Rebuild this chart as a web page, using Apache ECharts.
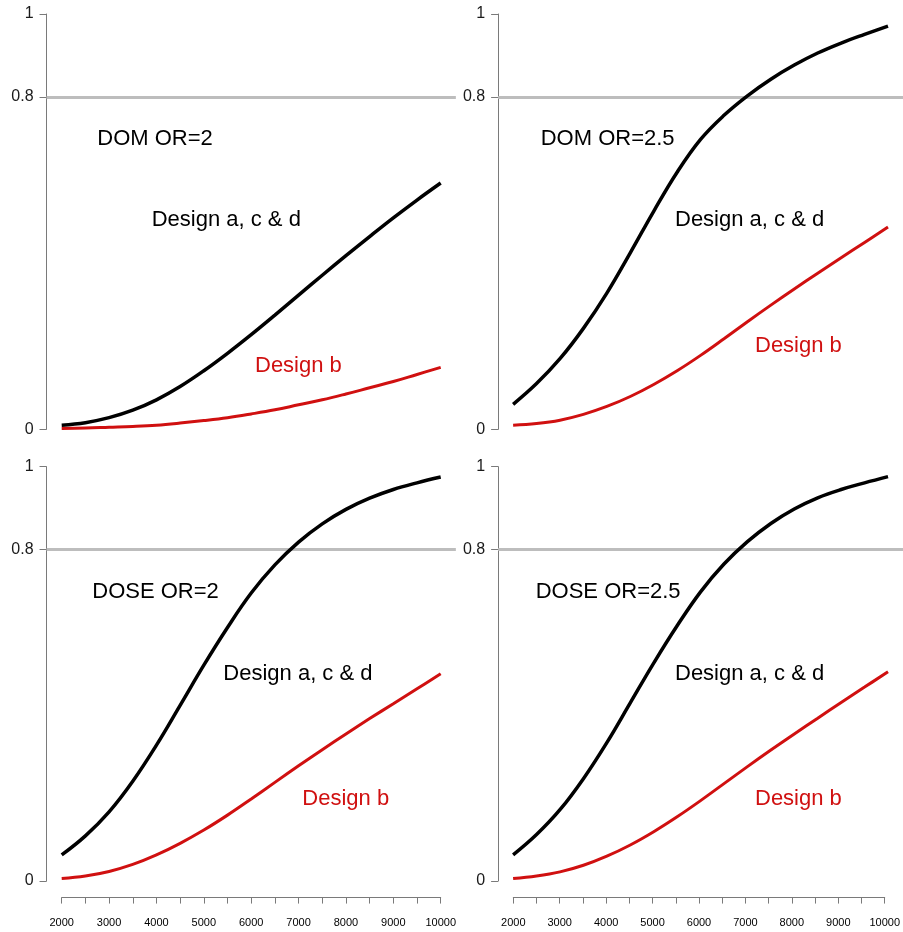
<!DOCTYPE html>
<html>
<head>
<meta charset="utf-8">
<title>Power by sample size</title>
<script src="https://cdn.jsdelivr.net/npm/echarts@6/dist/echarts.min.js"></script>
<style>
  html, body { margin: 0; padding: 0; background: #fff; }
  #chart { width: 903px; height: 932px; }
</style>
</head>
<body>
<div id="chart"></div>
<script>
// Total sample size (x) shared by all four panels
const sampleSizes = [2000, 2500, 3000, 3500, 4000, 4500, 5000, 5500, 6000,
                     6500, 7000, 7500, 8000, 8500, 9000, 9500, 10000];

// Power curves, one pair per panel
const domOr2Acd   = [0.010, 0.016, 0.028, 0.046, 0.071, 0.103, 0.141, 0.183, 0.228,
                     0.275, 0.323, 0.371, 0.418, 0.464, 0.509, 0.552, 0.593];
const domOr2B     = [0.002, 0.003, 0.005, 0.007, 0.010, 0.015, 0.021, 0.028, 0.037,
                     0.047, 0.059, 0.071, 0.085, 0.100, 0.115, 0.132, 0.149];
const domOr25Acd  = [0.060, 0.110, 0.170, 0.243, 0.328, 0.425, 0.525, 0.619, 0.698,
                     0.756, 0.803, 0.843, 0.877, 0.906, 0.930, 0.951, 0.971];
const domOr25B    = [0.010, 0.014, 0.022, 0.036, 0.055, 0.079, 0.108, 0.141, 0.178,
                     0.218, 0.259, 0.299, 0.338, 0.376, 0.413, 0.450, 0.487];
const doseOr2Acd  = [0.063, 0.109, 0.167, 0.241, 0.328, 0.424, 0.521, 0.612, 0.695,
                     0.763, 0.818, 0.862, 0.897, 0.924, 0.945, 0.961, 0.975];
const doseOr2B    = [0.006, 0.012, 0.023, 0.040, 0.063, 0.091, 0.123, 0.159, 0.198,
                     0.238, 0.278, 0.317, 0.355, 0.392, 0.428, 0.464, 0.500];
const doseOr25Acd = [0.063, 0.112, 0.172, 0.247, 0.334, 0.430, 0.526, 0.616, 0.698,
                     0.765, 0.819, 0.863, 0.898, 0.925, 0.945, 0.961, 0.976];
const doseOr25B   = [0.006, 0.012, 0.022, 0.038, 0.060, 0.087, 0.119, 0.155, 0.194,
                     0.235, 0.276, 0.316, 0.355, 0.393, 0.431, 0.468, 0.505];

// Axis ticks and labels
const yTickValues = [0, 0.8, 1];
const xTickStep = 500;
const xLabelStep = 1000;
const targetPower = 0.8;

// Panel titles and curve labels
const panelTitles = ['DOM OR=2', 'DOM OR=2.5', 'DOSE OR=2', 'DOSE OR=2.5'];
const designAcdLabel = 'Design a, c & d';
const designBLabel = 'Design b';

const panels = [
  { acd: domOr2Acd,   b: domOr2B },
  { acd: domOr25Acd,  b: domOr25B },
  { acd: doseOr2Acd,  b: doseOr2B },
  { acd: doseOr25Acd, b: doseOr25B }
];

const FONT = '"Liberation Sans", Arial, sans-serif';
const RED = '#d01010';
const AXIS_GREY = '#7a7a7a';

// Layout: plot region (with 4% padding around the data range) per panel
const xMin = 2000, xMax = 10000;
const pad = (xMax - xMin) * 0.04;
const dataWidthL = 379, dataWidthR = 379.4;
const colDataLeft = [61.7, 513.3];
const rowTop = [14, 466.7];
const rowHeight = [415.3, 414.3];

const grids = [], xAxes = [], yAxes = [], series = [], texts = [];

panels.forEach((p, i) => {
  const col = i % 2, row = Math.floor(i / 2);
  const dw = col === 0 ? dataWidthL : dataWidthR;
  const padPx = dw * 0.04;
  grids.push({
    left: colDataLeft[col] - padPx,
    top: rowTop[row],
    width: dw + 2 * padPx,
    height: rowHeight[row]
  });
  xAxes.push({
    gridIndex: i, type: 'value', min: xMin - pad, max: xMax + pad, show: false
  });
  yAxes.push({
    gridIndex: i, type: 'value', min: 0, max: 1,
    axisLine: { show: true, lineStyle: { color: AXIS_GREY, width: 1 } },
    axisTick: { show: true, length: 7, customValues: yTickValues,
                lineStyle: { color: AXIS_GREY, width: 1 } },
    axisLabel: { show: true, customValues: yTickValues, margin: 13,
                 fontFamily: FONT, fontSize: 16, color: '#1a1a1a' },
    splitLine: { show: false }
  });
  series.push({
    type: 'line', xAxisIndex: i, yAxisIndex: i,
    data: sampleSizes.map((x, k) => [x, p.acd[k]]),
    smooth: 0.4, showSymbol: false, silent: true,
    lineStyle: { color: '#000', width: 3.5 },
    z: 3,
    markLine: {
      silent: true, symbol: 'none', label: { show: false },
      lineStyle: { color: '#bdbdbd', width: 3, type: 'solid' },
      data: [{ yAxis: targetPower }],
      z: 1
    }
  });
  series.push({
    type: 'line', xAxisIndex: i, yAxisIndex: i,
    data: sampleSizes.map((x, k) => [x, p.b[k]]),
    smooth: 0.4, showSymbol: false, silent: true,
    lineStyle: { color: RED, width: 3 },
    z: 3
  });
});

// Bottom x-axes spanning exactly the data range
[0, 1].forEach(col => {
  const gi = grids.length;
  grids.push({
    left: colDataLeft[col],
    top: rowTop[1],
    width: col === 0 ? dataWidthL : dataWidthR,
    height: rowHeight[1]
  });
  xAxes.push({
    gridIndex: gi, type: 'value', min: xMin, max: xMax, interval: xTickStep,
    position: 'bottom', offset: rowHeight[1] * 0.04,
    axisLine: { show: true, onZero: false, lineStyle: { color: AXIS_GREY, width: 1 } },
    axisTick: { show: true, length: 6, lineStyle: { color: AXIS_GREY, width: 1 } },
    axisLabel: {
      show: true, margin: 20, fontFamily: FONT, fontSize: 11, color: '#000',
      formatter: v => (v % xLabelStep === 0 ? String(v) : '')
    },
    splitLine: { show: false }
  });
  yAxes.push({ gridIndex: gi, type: 'value', min: 0, max: 1, show: false });
});

// Text annotations inside each panel
const textSpots = [
  { title: [97.3, 139.2], acd: [151.7, 220], b: [255, 365.5] },
  { title: [540.7, 139.2], acd: [675, 220], b: [755, 345.5] },
  { title: [92.3, 592], acd: [223.3, 673.5], b: [302.3, 798.5] },
  { title: [535.7, 592], acd: [675, 673.5], b: [755, 798.5] }
];
textSpots.forEach((s, i) => {
  const mk = (pos, text, color) => ({
    type: 'text', x: pos[0], y: pos[1], silent: true,
    style: { text, fill: color, font: '22px ' + FONT,
             textAlign: 'left', textVerticalAlign: 'middle' }
  });
  texts.push(mk(s.title, panelTitles[i], '#000'));
  texts.push(mk(s.acd, designAcdLabel, '#000'));
  texts.push(mk(s.b, designBLabel, RED));
});

const chart = echarts.init(document.getElementById('chart'), null, { renderer: 'canvas' });
chart.setOption({
  backgroundColor: '#fff',
  animation: false,
  grid: grids,
  xAxis: xAxes,
  yAxis: yAxes,
  series,
  graphic: texts
});
</script>
</body>
</html>
